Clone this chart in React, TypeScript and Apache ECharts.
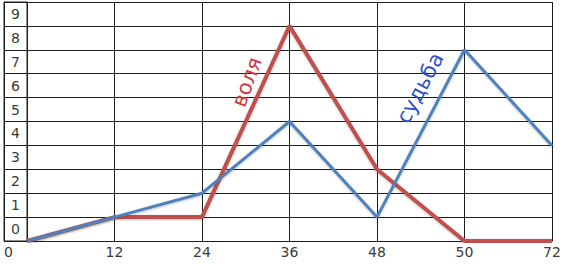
import React, { useEffect, useRef } from "react";
import * as echarts from "echarts";

const categories = ["0", "12", "24", "36", "48", "50", "72"];
const volya = [0, 1, 1, 9, 3, 0, 0];
const sudba = [0, 1, 2, 5, 1, 8, 4];
const rowLabels = ["0", "1", "2", "3", "4", "5", "6", "7", "8", "9"];

const FONT = "DejaVu Sans";
const LINE = "#1e1e1e";

export default function App() {
  const ref = useRef<HTMLDivElement>(null);
  useEffect(() => {
    if (!ref.current) return;
    const chart = echarts.init(ref.current, undefined, { renderer: "svg" });
    chart.setOption({
      animation: false,
      backgroundColor: "#ffffff",
      grid: [
        { left: 27, right: 15, top: 2, bottom: 24, containLabel: false },
        {
          left: 4,
          width: 23,
          top: 2,
          bottom: 24,
          show: true,
          borderColor: LINE,
          borderWidth: 1,
        },
      ],
      xAxis: [
        {
          type: "category",
          gridIndex: 0,
          data: categories,
          boundaryGap: false,
          axisLine: { show: true, lineStyle: { color: LINE, width: 1 } },
          axisTick: { show: false },
          splitLine: { show: true, lineStyle: { color: LINE, width: 1 } },
          axisLabel: {
            color: "#3a3a3a",
            fontFamily: FONT,
            fontSize: 14,
            margin: 4,
            formatter: (v: string, i: number) => (i === 0 ? "" : v),
          },
        },
        {
          type: "value",
          gridIndex: 1,
          min: 0,
          max: 1,
          interval: 1,
          axisLine: { show: false },
          axisTick: { show: false },
          splitLine: { show: false },
          axisLabel: {
            color: "#3a3a3a",
            fontFamily: FONT,
            fontSize: 14,
            margin: 4,
            align: "left",
            formatter: (v: number) => (v === 0 ? categories[0] : ""),
          },
        },
      ],
      yAxis: [
        {
          type: "value",
          gridIndex: 0,
          min: 0,
          max: 10,
          interval: 1,
          axisLine: { show: true, lineStyle: { color: LINE, width: 1 } },
          axisTick: { show: false },
          axisLabel: { show: false },
          splitLine: { show: true, lineStyle: { color: LINE, width: 1 } },
        },
        {
          type: "category",
          gridIndex: 1,
          data: rowLabels,
          boundaryGap: true,
          axisLine: { show: true, lineStyle: { color: LINE, width: 1 } },
          axisTick: { show: false },
          splitLine: { show: true, lineStyle: { color: LINE, width: 1 } },
          axisLabel: {
            inside: true,
            margin: 11.5,
            align: "center",
            color: "#3a3a3a",
            fontFamily: FONT,
            fontSize: 14,
          },
        },
      ],
      series: [
        {
          name: "воля",
          type: "line",
          xAxisIndex: 0,
          yAxisIndex: 0,
          data: volya,
          symbol: "none",
          lineStyle: {
            color: "#c0504d",
            width: 4,
            shadowColor: "rgba(0,0,0,0.25)",
            shadowBlur: 2,
            shadowOffsetY: 1,
          },
          z: 3,
        },
        {
          name: "судьба",
          type: "line",
          xAxisIndex: 0,
          yAxisIndex: 0,
          data: sudba,
          symbol: "none",
          lineStyle: {
            color: "#4f81bd",
            width: 3,
            shadowColor: "rgba(0,0,0,0.25)",
            shadowBlur: 2,
            shadowOffsetY: 1,
          },
          z: 4,
        },
      ],
      graphic: [
        {
          type: "text",
          x: 247,
          y: 82,
          rotation: (70 * Math.PI) / 180,
          z: 10,
          style: {
            text: "воля",
            fill: "#cf3b47",
            font: `21px '${FONT}'`,
            align: "center",
            verticalAlign: "middle",
          },
        },
        {
          type: "text",
          x: 420,
          y: 88,
          rotation: (62 * Math.PI) / 180,
          z: 10,
          style: {
            text: "судьба",
            fill: "#2f52c8",
            font: `21px '${FONT}'`,
            align: "center",
            verticalAlign: "middle",
          },
        },
      ],
    });
    return () => chart.dispose();
  }, []);
  return (
    <div
      ref={ref}
      style={{ position: "absolute", left: 0, top: 0, width: 567, height: 265 }}
    />
  );
}
